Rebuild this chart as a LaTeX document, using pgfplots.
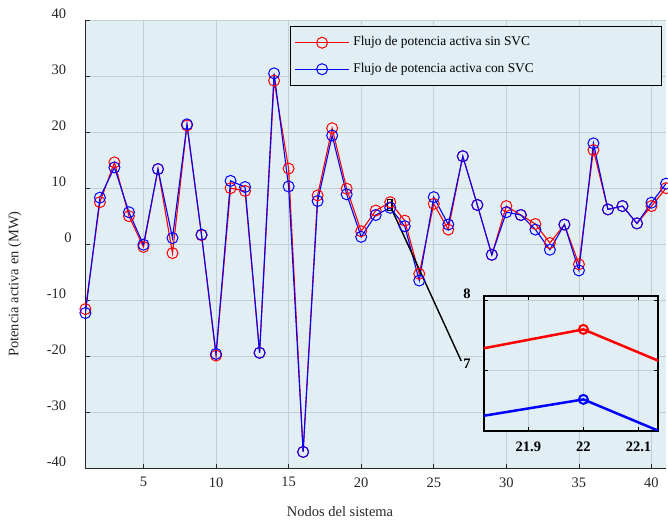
\documentclass[border=0pt]{standalone}
\usepackage{fontspec}
\setmainfont{Liberation Serif}
\usepackage{pgfplots}
\usepackage{pgfplotstable}
\pgfplotsset{compat=1.18}
\definecolor{bgc}{RGB}{225,238,244}
\definecolor{gridc}{RGB}{196,207,213}
\definecolor{axc}{RGB}{38,38,38}

\pgfplotstableread{
n red blue
1 -11.5 -12.2
2 7.6 8.4
3 14.7 13.8
4 5.1 5.8
5 -0.4 0.0
6 13.5 13.5
7 -1.5 1.2
8 21.3 21.5
9 1.7 1.8
10 -19.8 -19.5
11 10.1 11.4
12 9.6 10.3
13 -19.3 -19.3
14 29.3 30.6
15 13.6 10.4
16 -37.0 -37.0
17 8.8 7.8
18 20.8 19.5
19 10.0 9.0
20 2.4 1.4
21 6.1 5.3
22 7.59 6.59
23 4.3 3.3
24 -5.2 -6.4
25 7.3 8.5
26 2.7 3.6
27 15.8 15.8
28 7.1 7.1
29 -1.8 -1.8
30 6.9 5.8
31 5.3 5.3
32 3.7 2.7
33 0.3 -0.9
34 3.6 3.6
35 -3.5 -4.6
36 16.9 18.1
37 6.3 6.3
38 6.9 6.9
39 3.8 3.8
40 6.9 7.5
41 10.1 10.9
}\data

\pgfplotstableread{
n red blue
21 6.1 5.3
22 7.59 6.59
23 4.3 3.3
}\zoomdata

\begin{document}
\begin{tikzpicture}
\path[use as bounding box] (0,0) rectangle (668bp,522bp);
\begin{axis}[
  at={(85.4bp,53.3bp)}, anchor=south west,
  scale only axis, width=580.6bp, height=448bp,
  xmin=1, xmax=41, ymin=-40, ymax=40,
  enlargelimits=false,
  xtick={5,10,...,40}, xticklabels={5,10,15,20,25,30,35,40},
  ytick={-40,-30,...,40}, yticklabels={-40,-30,-20,-10,0\kern-5.5bp,10,20,30,40},
  axis x line*=bottom, axis y line*=left,
  axis line style={axc, line width=0.8bp},
  tick align=inside, major tick length=5bp,
  tick style={axc, line width=0.8bp},
  grid=major, major grid style={gridc, line width=0.8bp},
  axis background/.style={fill=bgc},
  tick label style={font=\fontsize{14.5bp}{17bp}\selectfont, text=axc, inner sep=0pt},
  yticklabel style={anchor=east, xshift=-19bp, yshift=7bp},
  xticklabel style={anchor=north, yshift=-8.5bp},
  xlabel={Nodos del sistema},
  xlabel style={at={(axis description cs:0.4385,-0.0967)}, anchor=center, font=\fontsize{14.5bp}{17bp}\selectfont, text=axc},
  ylabel={Potencia activa en (MW)},
  ylabel style={at={(axis description cs:-0.1213,0.412)}, anchor=center, font=\fontsize{14.5bp}{17bp}\selectfont, text=axc},
  legend style={at={(axis description cs:0.9926,0.988)}, anchor=north east, fill=bgc, draw=black, line width=0.8bp,
    inner xsep=5bp, inner ysep=10bp, font=\fontsize{13.4bp}{16bp}\selectfont,
    nodes={inner sep=0pt, text height=9.5bp, text depth=3bp}, row sep=14bp, column sep=4bp, text=black},
  legend image code/.code={\draw[mark repeat=2,mark phase=2] plot coordinates {(0bp,0bp) (26.65bp,0bp) (53.3bp,0bp)};},
]
\addplot[red, line width=1.1bp, mark=o, mark size=5.5bp, mark options={line width=1bp}] table[x=n,y=red]{\data};
\addlegendentry{\makebox[303bp][l]{Flujo de potencia activa sin SVC}}
\addplot[blue, line width=1.1bp, mark=o, mark size=5.5bp, mark options={line width=1bp}] table[x=n,y=blue]{\data};
\addlegendentry{\makebox[303bp][l]{Flujo de potencia activa con SVC}}
\draw[black, line width=1.4bp] (axis cs:21.819,6.14) rectangle (axis cs:22.136,8.067);
\draw[black, line width=1.4bp] (axis cs:22.136,6.14) -- (axis cs:26.89,-20.75);
\end{axis}

\begin{axis}[
  at={(483.7bp,91bp)}, anchor=south west,
  scale only axis, width=174.6bp, height=135bp,
  xmin=21.819, xmax=22.136, ymin=6.139, ymax=8.067,
  enlargelimits=false,
  xtick={21.9,22,22.1}, xticklabels={21.9,22,22.1},
  ytick={7,8}, yticklabels={7,8},
  axis line style={black, line width=1.8bp},
  tick align=inside, major tick length=4bp,
  tick style={black, line width=1bp},
  grid=major, major grid style={gridc, line width=0.8bp},
  axis background/.style={fill=bgc},
  tick label style={font=\fontsize{14.5bp}{17bp}\selectfont\bfseries, text=black, inner sep=0pt},
  yticklabel style={anchor=east, xshift=-13bp, yshift=6.5bp},
  xticklabel style={anchor=north, yshift=-10.8bp},
]
\addplot[red, line width=2.5bp, mark=o, mark size=4.5bp, mark options={line width=2bp}] table[x=n,y=red]{\zoomdata};
\addplot[blue, line width=2.5bp, mark=o, mark size=4.5bp, mark options={line width=2bp}] table[x=n,y=blue]{\zoomdata};
\end{axis}
\end{tikzpicture}
\end{document}
